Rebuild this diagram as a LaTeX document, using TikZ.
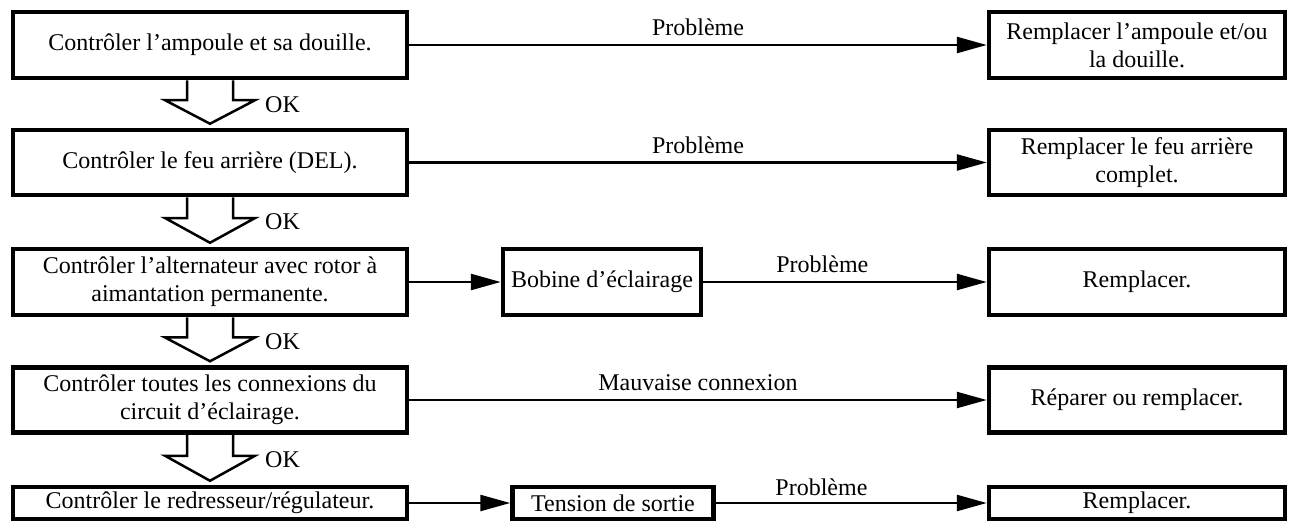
\documentclass[tikz,border=0pt]{standalone}
\usepackage{fontspec}
\setmainfont{Liberation Serif}
\usetikzlibrary{arrows.meta,positioning,calc}

\tikzset{
  box/.style={draw, line width=4.5pt, align=center, inner sep=0pt, font=\fontsize{24}{28}\selectfont},
  checkbox/.style={box, minimum width=394pt, minimum height=66pt},
  midbox/.style={box, minimum width=198pt, minimum height=66pt},
  fixbox/.style={box, minimum width=296pt, minimum height=66pt},
  link/.style={line width=2.5pt, -{Triangle[length=30pt,width=16pt]}},
  hollow/.style={draw, line width=2.5pt, line join=miter},
  lbl/.style={font=\fontsize{24}{28}\selectfont, inner sep=2pt}
}

% hollow OK arrow between two check boxes
\newcommand{\okstep}[2]{%
  \coordinate (base) at ($(#1.south)!0.42!(#2.north)$);
  \coordinate (tip) at ($(#2.north)+(0,-4)$);
  \draw[hollow] ($(#1.south)+(-23,0)$) -- ($(base)+(-23,0)$) -- ($(base)+(-45,0)$)
    -- (tip) -- ($(base)+(45,0)$) -- ($(base)+(23,0)$) -- ($(#1.south)+(23,0)$);
  \node[lbl, anchor=west] (ok#2) at ($(base)+(53,4)$) {OK};
}

\begin{document}
\begin{tikzpicture}[x=1pt,y=-1pt]
  \useasboundingbox (0,0) rectangle (1292,525);

  % Check column
  \node[checkbox] (check1) at (210,45) {Contrôler l’ampoule et sa douille.};
  \node[checkbox, minimum height=65pt] (check2) at (210,162.5) {Contrôler le feu arrière (DEL).};
  \node[checkbox] (check3) at (210,282) {Contrôler l’alternateur avec rotor à\\aimantation permanente.};
  \node[checkbox, minimum height=65pt] (check4) at (210,400) {Contrôler toutes les connexions du\\circuit d’éclairage.};
  \node[checkbox, minimum height=32pt] (check5) at (210,503) {Contrôler le redresseur/régulateur.};

  % Middle column
  \node[midbox] (coil) at (602,282) {Bobine d’éclairage};
  \node[midbox, minimum width=201pt, minimum height=32pt] (volt) at (613,503) {Tension de sortie};

  % Remedy column
  \node[fixbox] (fix1) at (1137,45) {Remplacer l’ampoule et/ou\\la douille.};
  \node[fixbox, minimum height=65pt] (fix2) at (1137,162.5) {Remplacer le feu arrière\\complet.};
  \node[fixbox] (fix3) at (1137,282) {Remplacer.};
  \node[fixbox, minimum height=65pt] (fix4) at (1137,400) {Réparer ou remplacer.};
  \node[fixbox, minimum height=32pt] (fix5) at (1137,503) {Remplacer.};

  % OK steps
  \okstep{check1}{check2}
  \okstep{check2}{check3}
  \okstep{check3}{check4}
  \okstep{check4}{check5}

  % Problem links
  \draw[link] (check1) -- node[lbl, above=6pt] {Problème} (fix1);
  \draw[link] (check2) -- node[lbl, above=6pt] {Problème} (fix2);
  \draw[link] (check3) -- (coil);
  \draw[link] (coil) -- node[lbl, above=6pt, pos=0.42] {Problème} (fix3);
  \draw[link] (check4) -- node[lbl, above=6pt] {Mauvaise connexion} (fix4);
  \draw[link] (check5) -- (volt);
  \draw[link] (volt) -- node[lbl, above=4pt, pos=0.39] {Problème} (fix5);
\end{tikzpicture}
\end{document}
